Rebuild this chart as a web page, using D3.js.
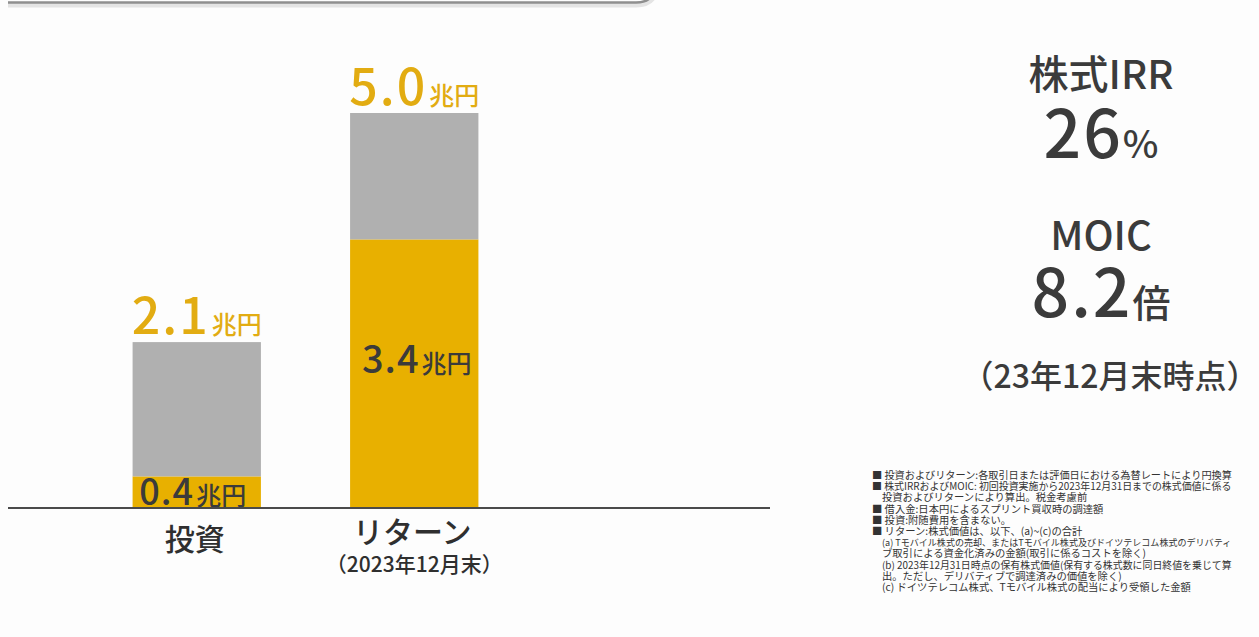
<!DOCTYPE html>
<html lang="ja">
<head>
<meta charset="utf-8">
<script src="https://cdn.jsdelivr.net/npm/d3@7"></script>
<style>
  html, body { margin: 0; padding: 0; background: #fdfdfd; }
  svg { display: block; }
  text { font-family: "Noto Sans CJK JP", "Noto Sans", sans-serif; }
</style>
</head>
<body>
<svg id="chart" width="1259" height="637"></svg>
<script>
// ---- data ----
const categories = ["投資", "リターン"];
const categoryNotes = ["", "（2023年12月末）"];
const goldValues = [0.4, 3.4];   // 兆円
const grayValues = [1.7, 1.6];   // 兆円
const totalValues = [2.1, 5.0];  // 兆円
const unitLabel = "兆円";

const metricNames = ["株式IRR", "MOIC"];
const metricValues = ["26", "8.2"];
const metricUnits = ["%", "倍"];
const metricAsOf = "（23年12月末時点）";

const footnotes = [
  { bullet: true,  text: "投資およびリターン:各取引日または評価日における為替レートにより円換算" },
  { bullet: true,  text: "株式IRRおよびMOIC: 初回投資実施から2023年12月31日までの株式価値に係る" },
  { bullet: false, text: "投資およびリターンにより算出。税金考慮前" },
  { bullet: true,  text: "借入金:日本円によるスプリント買収時の調達額" },
  { bullet: true,  text: "投資:附随費用を含まない。" },
  { bullet: true,  text: "リターン:株式価値は、以下、(a)~(c)の合計" },
  { bullet: false, text: "(a) Tモバイル株式の売却、またはTモバイル株式及びドイツテレコム株式のデリバティ" },
  { bullet: false, text: "ブ取引による資金化済みの金額(取引に係るコストを除く)" },
  { bullet: false, text: "(b) 2023年12月31日時点の保有株式価値(保有する株式数に同日終値を乗じて算" },
  { bullet: false, text: "出。ただし、デリバティブで調達済みの価値を除く)" },
  { bullet: false, text: "(c) ドイツテレコム株式、Tモバイル株式の配当により受領した金額" }
];

// ---- styles ----
const GOLD = "#E8B000";
const GOLD_TEXT = "#E2AC12";
const GRAY = "#B0B0B0";
const DARK = "#3b3b3b";

const svg = d3.select("#chart");

// frame edge at the top of the slide
svg.append("path")
  .attr("d", "M8,5 H636 Q652,5 656,-8")
  .attr("fill", "none")
  .attr("stroke", "#e4e4e4")
  .attr("stroke-width", 5);
svg.append("path")
  .attr("d", "M8,2.5 H636 Q650,2.5 654,-8")
  .attr("fill", "none")
  .attr("stroke", "#8f8f8f")
  .attr("stroke-width", 2.5);

// ---- scales ----
const x = d3.scaleBand()
  .domain(categories)
  .range([88, 523])
  .paddingInner(0.41)
  .paddingOuter(0.205);

const y = d3.scaleLinear()
  .domain([0, 5.0])
  .range([508, 113]);

// ---- stacked bars ----
const rows = categories.map((c, i) => ({ category: c, gold: goldValues[i], gray: grayValues[i] }));
const series = d3.stack().keys(["gold", "gray"])(rows);
const fills = { gold: GOLD, gray: GRAY };

svg.append("g")
  .selectAll("g")
  .data(series)
  .join("g")
  .attr("fill", d => fills[d.key])
  .selectAll("rect")
  .data(d => d)
  .join("rect")
  .attr("x", d => x(d.data.category))
  .attr("width", x.bandwidth())
  .attr("y", d => y(d[1]))
  .attr("height", d => y(d[0]) - y(d[1]));

// value label in the gold segment
const goldLabel = svg.append("g")
  .selectAll("text")
  .data(rows)
  .join("text")
  .attr("text-anchor", "middle")
  .attr("fill", DARK)
  .attr("font-weight", 500)
  .attr("x", (d, i) => x(d.category) + x.bandwidth() / 2 + (i === 0 ? -4 : 2.5))
  .attr("y", (d, i) => {
    const mid = (y(0) + y(d.gold)) / 2;
    return i === 0 ? mid + 13 : mid - 1;
  });
goldLabel.append("tspan")
  .attr("font-size", (d, i) => i === 0 ? 36 : 38)
  .attr("letter-spacing", 1)
  .text(d => d3.format(".1f")(d.gold));
goldLabel.append("tspan")
  .attr("font-size", 25)
  .attr("dx", 2)
  .text(unitLabel);

// total label above each bar
const totalLabel = svg.append("g")
  .selectAll("text")
  .data(totalValues)
  .join("text")
  .attr("text-anchor", "middle")
  .attr("fill", GOLD_TEXT)
  .attr("font-weight", 500)
  .attr("x", (d, i) => x(categories[i]) + x.bandwidth() / 2)
  .attr("y", d => y(d) - 8);
totalLabel.append("tspan")
  .attr("font-size", 50)
  .attr("letter-spacing", 2)
  .text(d => d3.format(".1f")(d));
totalLabel.append("tspan")
  .attr("font-size", 25)
  .attr("dx", 2)
  .text(unitLabel);

// baseline
svg.append("line")
  .attr("x1", 8)
  .attr("x2", 770)
  .attr("y1", y(0))
  .attr("y2", y(0))
  .attr("stroke", "#4a4a4a")
  .attr("stroke-width", 2);

// category labels
svg.append("g")
  .selectAll("text")
  .data(categories)
  .join("text")
  .attr("text-anchor", "middle")
  .attr("fill", "#2f2f2f")
  .attr("font-size", 30)
  .attr("font-weight", 500)
  .attr("x", d => x(d) + x.bandwidth() / 2 - 2)
  .attr("y", (d, i) => i === 0 ? 550 : 543)
  .text(d => d);

svg.append("g")
  .selectAll("text")
  .data(categoryNotes)
  .join("text")
  .attr("text-anchor", "middle")
  .attr("fill", "#2f2f2f")
  .attr("font-size", 21)
  .attr("font-weight", 500)
  .attr("x", (d, i) => x(categories[i]) + x.bandwidth() / 2)
  .attr("y", 572)
  .text(d => d);

// ---- headline metrics ----
const metricsX = 1101;
const nameBaselines = [89, 250];
const valueBaselines = [158, 317];

svg.append("g")
  .selectAll("text")
  .data(metricNames)
  .join("text")
  .attr("text-anchor", "middle")
  .attr("fill", DARK)
  .attr("font-size", 40)
  .attr("font-weight", 500)
  .attr("x", metricsX)
  .attr("y", (d, i) => nameBaselines[i])
  .text(d => d);

const metricValue = svg.append("g")
  .selectAll("text")
  .data(metricValues)
  .join("text")
  .attr("text-anchor", "middle")
  .attr("fill", DARK)
  .attr("font-weight", 500)
  .attr("x", metricsX)
  .attr("y", (d, i) => valueBaselines[i]);
metricValue.append("tspan")
  .attr("font-size", 66)
  .attr("letter-spacing", 2)
  .text(d => d);
metricValue.append("tspan")
  .attr("font-size", 38)
  .text((d, i) => metricUnits[i]);

svg.append("text")
  .attr("text-anchor", "middle")
  .attr("fill", DARK)
  .attr("font-size", 32)
  .attr("font-weight", 500)
  .attr("x", 1110)
  .attr("y", 388)
  .text(metricAsOf);

// ---- footnotes ----
const notesLeft = 872;
const notesIndent = 882;
const notesRight = 1232;
const notesSize = 10.3;
const notes = svg.append("g")
  .attr("fill", "#333");
notes.selectAll("text")
  .data(footnotes)
  .join("text")
  .attr("font-size", notesSize)
  .attr("x", d => d.bullet ? notesLeft : notesIndent)
  .attr("y", (d, i) => 479 + i * 11.2)
  .text(d => (d.bullet ? "■ " : "") + d.text)
  .each(function (d) {
    // use a slightly smaller size for any line that would run past the right margin
    const avail = notesRight - (d.bullet ? notesLeft : notesIndent);
    const len = this.getComputedTextLength();
    if (len > avail) {
      d3.select(this).attr("font-size", Math.floor(notesSize * avail / len * 100) / 100);
    }
  });
</script>
</body>
</html>
